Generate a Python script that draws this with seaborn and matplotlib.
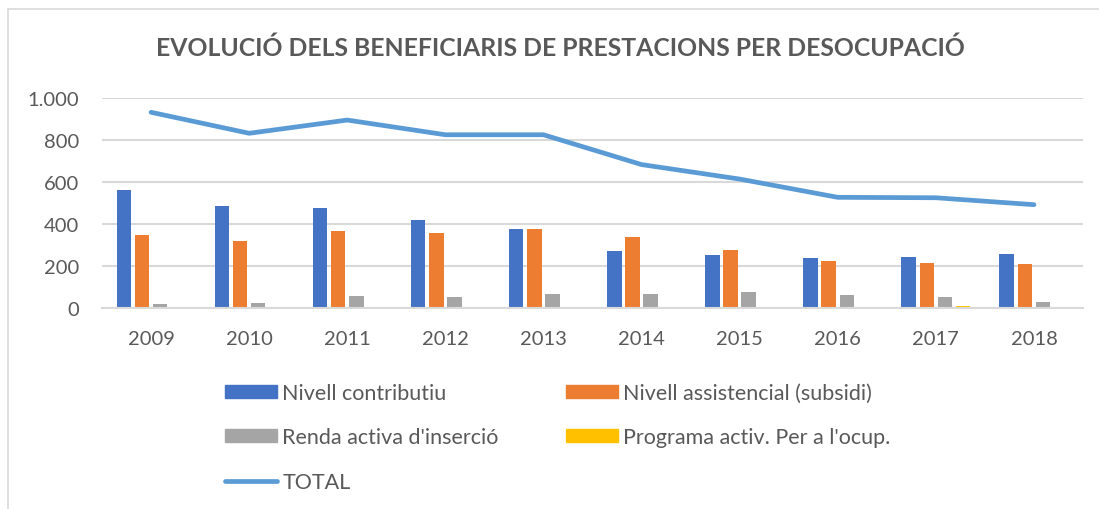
import numpy as np
import pandas as pd
import matplotlib
matplotlib.use("Agg")
import matplotlib.pyplot as plt
from matplotlib.lines import Line2D
from matplotlib.patches import Patch
import seaborn as sns

years = ["2009", "2010", "2011", "2012", "2013", "2014", "2015", "2016", "2017", "2018"]
contributiu = [560, 484, 475, 419, 378, 273, 252, 237, 244, 256]
assistencial = [348, 317, 365, 356, 378, 338, 276, 224, 214, 208]
renda = [21, 25, 56, 51, 65, 68, 76, 63, 54, 27]
programa = [0, 0, 0, 0, 0, 0, 0, 0, 10, 0]
total = [932, 832, 895, 825, 825, 683, 614, 527, 525, 492]

series_names = ["Nivell contributiu", "Nivell assistencial (subsidi)",
                "Renda activa d'inserció", "Programa activ. Per a l'ocup."]
total_name = "TOTAL"
title = "EVOLUCIÓ DELS BENEFICIARIS DE PRESTACIONS PER DESOCUPACIÓ"
yticks = [0, 200, 400, 600, 800, 1000]
ytick_labels = ["0", "200", "400", "600", "800", "1.000"]

colors = ["#4472C4", "#ED7D31", "#A5A5A5", "#FFC000"]
line_color = "#5B9BD5"
text_color = "#595959"
grid_color = "#D9D9D9"

sns.set_theme(style="white")
plt.rcParams["font.family"] = ["Lato", "DejaVu Sans"]

rows = []
for name, vals in zip(series_names, [contributiu, assistencial, renda, programa]):
    for y, v in zip(years, vals):
        rows.append({"year": y, "series": name, "value": v})
df = pd.DataFrame(rows)

W, H = 1099, 510
fig = plt.figure(figsize=(W / 100, H / 100), dpi=100)
ax = fig.add_axes([102 / W, (H - 309) / H, (1083 - 102) / W, (309 - 99) / H])

sns.barplot(data=df, x="year", y="value", hue="series", order=years,
            hue_order=series_names, palette=colors, saturation=1, width=0.74,
            gap=0.2, linewidth=0, ax=ax, legend=False)
sns.lineplot(x=np.arange(len(years)), y=total, color=line_color, linewidth=3.4,
             ax=ax, legend=False)
for ln in ax.lines:
    ln.set_solid_capstyle("round")
    ln.set_solid_joinstyle("round")

ax.set_xlim(-0.5, len(years) - 0.5)
ax.set_ylim(0, 1000)
ax.set_yticks(yticks)
ax.set_yticklabels(ytick_labels)
ax.set_xlabel("")
ax.set_ylabel("")
ax.yaxis.grid(True, color=grid_color, linewidth=1.5)
ax.set_axisbelow(True)
for s in ["top", "right", "left"]:
    ax.spines[s].set_visible(False)
ax.spines["bottom"].set_color(grid_color)
ax.spines["bottom"].set_linewidth(1.5)
ax.tick_params(axis="both", length=0, labelsize=14.5, colors=text_color)
ax.tick_params(axis="y", pad=16.5)
ax.tick_params(axis="x", pad=16)

fig.text(560 / W, 1 - 48 / H, title, ha="center", va="center",
         fontsize=17.8, fontweight="bold", color=text_color)

handles = [Patch(color=colors[0]), Patch(color=colors[2]),
           Line2D([], [], color=line_color, linewidth=3.4, solid_capstyle="round"),
           Patch(color=colors[1]), Patch(color=colors[3])]
labels = [series_names[0], series_names[2], total_name, series_names[1], series_names[3]]
leg = fig.legend(handles, labels, ncol=2, loc="upper left",
                 bbox_to_anchor=(225 / W, 1 - 384 / H), frameon=False,
                 fontsize=15.5, handlelength=2.42, handleheight=0.55,
                 handletextpad=0.25, labelspacing=1.13, columnspacing=3.1,
                 borderpad=0, borderaxespad=0)
for t in leg.get_texts():
    t.set_color(text_color)

fig.add_artist(Line2D([7.5 / W, 1.0], [1 - 10 / H, 1 - 10 / H], color=grid_color,
                      linewidth=1.2, transform=fig.transFigure))
fig.add_artist(Line2D([7.5 / W, 7.5 / W], [1 - 10 / H, 0.0], color=grid_color,
                      linewidth=1.2, transform=fig.transFigure))

fig.savefig("out.png", dpi=100)
